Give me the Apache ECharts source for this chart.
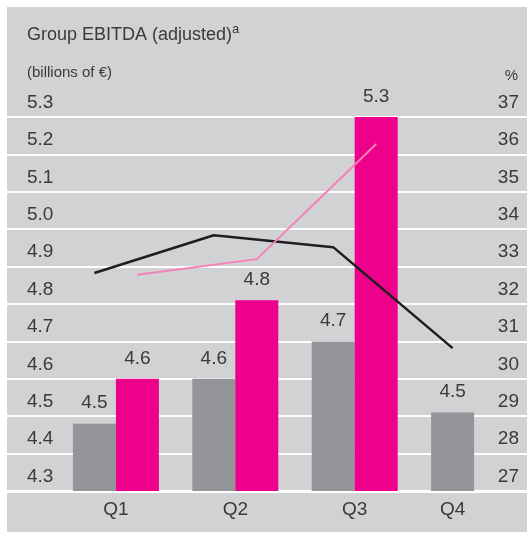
<!DOCTYPE html>
<html>
<head>
<meta charset="utf-8">
<script src="https://cdn.jsdelivr.net/npm/echarts@6/dist/echarts.min.js"></script>
<style>
  html, body { margin: 0; padding: 0; background: #fff; }
  .panel {
    position: absolute;
    left: 7px;
    top: 7px;
    width: 520px;
    height: 525px;
    background: #d1d2d4;
    overflow: hidden;
  }
  /* chart is wider than the panel so the shifted grids are not squeezed */
  .echarts {
    width: 600px;
    height: 525px;
  }
</style>
</head>
<body>
<div class="panel">
  <div class="echarts" id="chart"></div>
</div>
<script>
// quarters
var quarters = ["Q1", "Q2", "Q3", "Q4"];
// EBITDA adjusted, billions of €
var ebitdaPrev = [4.48, 4.6, 4.7, 4.51];
var ebitdaCurr = [4.6, 4.81, 5.3, null];
// EBITDA margin, %
var marginPrev = [32.83, 33.84, 33.52, 30.82];
var marginCurr = [32.78, 33.2, 36.28, null];
// axis ticks: min, max, step
var leftTicks = [4.3, 5.3, 0.1];
var rightTicks = [27, 37, 1];

var FONT = "'Liberation Sans Narrow', 'Liberation Sans', sans-serif";
var TXT = "#3a3a3a";
var GREY = "#939598";
var PINK = "#ec008c";
var PINK_LINE = "#f580b5";
var BLACK = "#1e1e1e";

var EXTRA = 80; // chart width beyond the visible panel
var BAR_W = 43;
var catLeft = 49.2, catWidth = 477.6;
var gTop = 110, gBottom = 41;

var myChart = echarts.init(document.getElementById("chart"));

function hiddenY(idx, range) {
  return {
    type: "value",
    gridIndex: idx,
    min: range[0],
    max: range[1],
    interval: range[2],
    show: false,
  };
}

var option = {
  animation: false,
  textStyle: { fontFamily: FONT },
  title: [
    {
      left: 15,
      top: 11,
      text: "Group EBITDA (adjusted){sup|a}",
      textStyle: {
        fontFamily: FONT,
        fontSize: 18,
        fontWeight: "normal",
        color: TXT,
        rich: {
          sup: { fontFamily: FONT, fontSize: 13, color: TXT, padding: [0, 0, 11, 0] },
        },
      },
    },
    {
      left: 15,
      top: 53,
      text: "(billions of €)",
      textStyle: { fontFamily: FONT, fontSize: 15, fontWeight: "normal", color: TXT },
    },
    {
      right: 4 + EXTRA,
      top: 56,
      text: "%",
      textStyle: { fontFamily: FONT, fontSize: 15, fontWeight: "normal", color: TXT },
    },
  ],
  grid: [
    // full panel width: gridlines + axis labels
    { left: 0, right: EXTRA, top: gTop, bottom: gBottom },
    // bars
    { left: catLeft, width: catWidth, top: gTop, bottom: gBottom },
    // line at grey bar centres
    { left: catLeft - BAR_W / 2, width: catWidth, top: gTop, bottom: gBottom },
    // line at pink bar centres
    { left: catLeft + BAR_W / 2, width: catWidth, top: gTop, bottom: gBottom },
  ],
  xAxis: [
    {
      type: "value",
      gridIndex: 0,
      show: true,
      min: 0,
      max: 1,
      axisLine: { show: true, lineStyle: { color: "#ffffff", width: 3 } },
      axisTick: { show: false },
      axisLabel: { show: false },
      splitLine: { show: false },
    },
    {
      type: "category",
      gridIndex: 1,
      data: quarters,
      axisLine: { show: false },
      axisTick: { show: false },
      axisLabel: {
        margin: 9,
        fontFamily: FONT,
        fontSize: 19,
        color: TXT,
        formatter: function (v) {
          // Q4 has only one bar, its label sits under that bar
          return v === "Q4" ? "{q4|" + v + "}" : v;
        },
        rich: {
          q4: { fontFamily: FONT, fontSize: 19, color: TXT, padding: [0, 43, 0, 0] },
        },
      },
    },
    { type: "category", gridIndex: 2, data: quarters, show: false },
    { type: "category", gridIndex: 3, data: quarters, show: false },
  ],
  yAxis: [
    {
      type: "value",
      gridIndex: 0,
      position: "left",
      min: leftTicks[0],
      max: leftTicks[1],
      interval: leftTicks[2],
      axisLine: { show: false },
      axisTick: { show: false },
      splitLine: { show: true, lineStyle: { color: "#ffffff", width: 2 } },
      axisLabel: {
        inside: true,
        margin: 20,
        fontFamily: FONT,
        fontSize: 19,
        color: TXT,
        verticalAlign: "bottom",
        padding: [0, 0, 5, 0],
        formatter: function (v) {
          return v.toFixed(1);
        },
      },
    },
    {
      type: "value",
      gridIndex: 0,
      position: "right",
      min: rightTicks[0],
      max: rightTicks[1],
      interval: rightTicks[2],
      axisLine: { show: false },
      axisTick: { show: false },
      splitLine: { show: false },
      axisLabel: {
        inside: true,
        margin: 8,
        fontFamily: FONT,
        fontSize: 19,
        color: TXT,
        verticalAlign: "bottom",
        padding: [0, 0, 5, 0],
      },
    },
    hiddenY(1, leftTicks),
    hiddenY(2, rightTicks),
    hiddenY(3, rightTicks),
  ],
  series: [
    {
      type: "bar",
      xAxisIndex: 1,
      yAxisIndex: 2,
      data: ebitdaPrev,
      barWidth: BAR_W,
      barGap: "0%",
      itemStyle: { color: GREY },
      label: {
        show: true,
        position: "top",
        distance: 11,
        fontFamily: FONT,
        fontSize: 19,
        color: TXT,
        formatter: function (p) {
          return p.value.toFixed(1);
        },
      },
    },
    {
      type: "bar",
      xAxisIndex: 1,
      yAxisIndex: 2,
      data: ebitdaCurr,
      barWidth: BAR_W,
      barGap: "0%",
      itemStyle: { color: PINK },
      label: {
        show: true,
        position: "top",
        distance: 11,
        fontFamily: FONT,
        fontSize: 19,
        color: TXT,
        formatter: function (p) {
          return p.value.toFixed(1);
        },
      },
    },
    {
      type: "line",
      xAxisIndex: 2,
      yAxisIndex: 3,
      data: marginPrev,
      symbol: "none",
      lineStyle: { color: BLACK, width: 2.5 },
      z: 5,
    },
    {
      type: "line",
      xAxisIndex: 3,
      yAxisIndex: 4,
      data: marginCurr,
      symbol: "none",
      lineStyle: { color: PINK_LINE, width: 2 },
      z: 5,
    },
  ],
};

myChart.setOption(option);
window.addEventListener("resize", () => {
  myChart.resize();
});
</script>
</body>
</html>
